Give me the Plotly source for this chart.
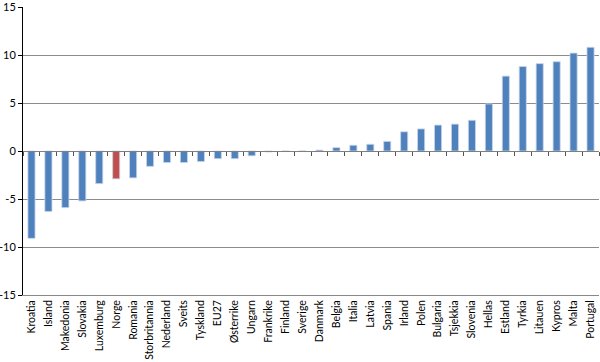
import plotly.graph_objects as go

categories = ["Kroatia", "Island", "Makedonia", "Slovakia", "Luxemburg", "Norge", "Romania",
              "Storbritannia", "Nederland", "Sveits", "Tyskland", "EU27", "Østerrike", "Ungarn",
              "Frankrike", "Finland", "Sverige", "Danmark", "Belgia", "Italia", "Latvia", "Spania",
              "Irland", "Polen", "Bulgaria", "Tsjekkia", "Slovenia", "Hellas", "Estland", "Tyrkia",
              "Litauen", "Kypros", "Malta", "Portugal"]
values = [-9.1, -6.3, -5.9, -5.2, -3.4, -2.9, -2.8,
          -1.6, -1.2, -1.2, -1.1, -0.8, -0.8, -0.5,
          -0.1, 0.0, 0.0, 0.1, 0.35, 0.6, 0.7, 1.0,
          2.0, 2.3, 2.7, 2.8, 3.2, 4.9, 7.8, 8.8,
          9.1, 9.3, 10.2, 10.8]
y_ticks = [-15, -10, -5, 0, 5, 10, 15]
highlight = "Norge"

blue = "#4F81BD"
red = "#C0504D"
colors = [red if c == highlight else blue for c in categories]

fig = go.Figure()
fig.add_trace(go.Bar(
    x=categories, y=values,
    marker=dict(color=colors, line=dict(color="#C9D7EA", width=0.8)),
    width=0.42,
    hoverinfo="skip",
))
# invisible helper trace for the category axis drawn at zero
fig.add_trace(go.Scatter(
    x=categories, y=values, xaxis="x2", mode="markers",
    marker=dict(opacity=0), hoverinfo="skip", showlegend=False,
))

font_family = "Lato, 'Open Sans', sans-serif"
fig.update_layout(
    width=600, height=362,
    margin=dict(l=23, r=1, t=7, b=67, autoexpand=False),
    paper_bgcolor="white", plot_bgcolor="white",
    showlegend=False,
    font=dict(family=font_family, size=10, color="black"),
    xaxis=dict(
        type="category", categoryorder="array", categoryarray=categories,
        tickangle=-90, tickfont=dict(size=10.5, family=font_family),
        showgrid=False, showline=True, linecolor="#888888", linewidth=1,
        ticks="", zeroline=False, range=[-0.5, len(categories) - 0.5],
        automargin=False,
    ),
    xaxis2=dict(
        type="category", categoryorder="array", categoryarray=categories,
        overlaying="x", anchor="free", position=0.5,
        showticklabels=False, showgrid=False,
        showline=True, linecolor="#7F7F7F", linewidth=1,
        ticks="outside", tickson="boundaries", ticklen=4, tickcolor="#555555",
        range=[-0.5, len(categories) - 0.5],
    ),
    yaxis=dict(
        range=[-15, 15], tickvals=y_ticks, ticktext=[str(v) for v in y_ticks],
        showgrid=True, gridcolor="#8C8C8C", gridwidth=1,
        zeroline=False,
        showline=True, linecolor="black", linewidth=1,
        ticks="outside", ticklen=4, tickcolor="black",
        tickfont=dict(size=11, family=font_family),
        ticklabeloverflow="allow",
        automargin=False,
    ),
)

fig.write_html("out.html", post_script="document.body.style.margin='0';",
               config={"displayModeBar": False})
